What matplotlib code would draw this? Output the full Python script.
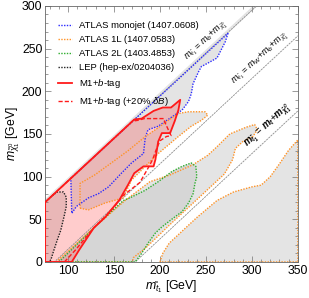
import matplotlib
matplotlib.use("Agg")

import matplotlib.pyplot as plt
from matplotlib.lines import Line2D
from matplotlib.ticker import MultipleLocator

plt.rcParams["font.family"] = ["Liberation Sans", "DejaVu Sans"]
plt.rcParams["mathtext.fontset"] = "custom"
plt.rcParams["mathtext.it"] = "Liberation Sans:italic"
plt.rcParams["mathtext.rm"] = "Liberation Sans"
plt.rcParams["mathtext.bf"] = "Liberation Sans:bold:italic"

# kinematic thresholds (GeV): m_t1 - m_chi = offset
line_offsets = [5, 85, 173]

# contours, (m_stop, m_chi) in GeV
monojet = [(274, 268), (271, 258), (262, 239), (252, 233), (245, 229), (242, 223),
           (236, 209), (234, 197), (231, 188), (224, 178), (213, 170), (198, 159),
           (187, 155), (184, 146), (182, 127), (169, 116), (158, 104), (144, 88),
           (133, 80), (122, 75), (109, 65), (104, 57), (103, 98)]
atlas1l_4body = [(113, 63), (122, 61), (140, 69), (160, 75), (169, 96), (184, 112),
                 (198, 127), (220, 147), (234, 159), (245, 166), (252, 172), (249, 176),
                 (231, 176), (220, 174), (209, 166), (195, 155), (184, 147), (166, 131),
                 (147, 116), (129, 102), (113, 92)]
atlas1l_3body = [(87, 0), (130, 42), (162, 72), (189, 94), (211, 102), (236, 114),
                 (252, 125), (262, 135), (276, 150), (294, 158), (303, 161), (306, 155),
                 (301, 147), (290, 141), (282, 133), (279, 120), (270, 103), (240, 73),
                 (210, 43), (185, 17), (171, 5), (170, 0)]
atlas1l_2body = [(200, 0), (203, 10), (210, 22), (225, 37), (240, 52), (262, 72),
                 (280, 82), (300, 88), (310, 90), (320, 100), (330, 115), (340, 131),
                 (350, 143), (350, 0)]
atlas2l = [(90, 0), (130, 42), (160, 72), (167, 75), (184, 84), (198, 94), (213, 106),
           (224, 112), (234, 116), (239, 112), (240, 100), (238, 92), (236, 80),
           (231, 69), (224, 59), (214, 51), (202, 41), (195, 34), (187, 22), (180, 10),
           (173, 0)]
lep = [(75, 0), (80, 0), (82, 5), (84, 12), (88, 25), (92, 37), (96, 55), (98, 65),
       (98, 76), (95, 82), (88, 82), (82, 77), (75, 70)]
m1_btag = [(104, 0), (112, 14), (120, 27), (128, 40), (140, 52), (156, 73), (165, 90),
           (172, 104), (182, 112), (193, 112), (195, 120), (198, 141), (202, 151),
           (211, 151), (216, 165), (220, 178), (222, 190), (212, 181), (203, 181),
           (193, 177), (180, 168), (172, 167), (167, 162), (75, 70), (75, 0)]
m1_btag_20 = [(96, 0), (108, 14), (118, 27), (128, 40), (142, 55), (150, 64),
              (160, 78), (178, 93), (186, 108), (192, 120), (196, 132), (200, 142),
              (207, 147), (212, 148), (209, 155), (206, 162), (204, 168), (193, 168),
              (183, 168), (176, 166), (170, 165), (75, 70), (75, 0)]

labels = ["ATLAS monojet (1407.0608)", "ATLAS 1L (1407.0583)", "ATLAS 2L (1403.4853)",
          "LEP (hep-ex/0204036)", r"M1+$b$-tag", r"M1+$b$-tag (+20% $\delta B$)"]
line_texts = [r"$m_{\tilde{t}_1}$ = $m_b$+$m_{\tilde{\chi}^0_1}$",
              r"$m_{\tilde{t}_1}$ = $m_W$+$m_b$+$m_{\tilde{\chi}^0_1}$",
              r"$\mathbf{m_{\tilde{t}_1}}$ = $\mathbf{m_t}$+$\mathbf{m_{\tilde{\chi}^0_1}}$"]
line_text_x = [255, 314, 323]

BLUE, ORANGE, GREEN, BLACK, RED = "#2b2bff", "#ff9326", "#2fae2f", "#222222", "#ff1a1a"
GRAY = "#e4e4e4"
DOT = (0, (1, 1))


def xy(poly):
    return [p[0] for p in poly], [p[1] for p in poly]


fig = plt.figure(figsize=(3.09, 2.98), dpi=100)
ax = fig.add_axes([0.146, 0.121, 0.818, 0.859])

# excluded regions (gray)
for poly, fc in [(atlas1l_2body, GRAY), (atlas1l_3body, GRAY), (atlas2l, "#d6d6d6"),
                 (monojet, GRAY), (atlas1l_4body, GRAY), (lep, GRAY)]:
    ax.fill(*xy(poly), color=fc, lw=0, zorder=1)

# strip above the first threshold
ax.fill_between([75, 305], [70, 300], [75, 305], color=GRAY, lw=0, zorder=1)

ax.fill(*xy(m1_btag), color=RED, alpha=0.22, lw=0, zorder=2)

# threshold lines
for off in line_offsets:
    ax.plot([75, 350], [75 - off, 350 - off], color="0.55", lw=0.6,
            ls=(0, (2.5, 1)), zorder=3)

for poly, c in [(monojet, BLUE), (atlas1l_4body, ORANGE), (atlas1l_3body, ORANGE),
                (atlas1l_2body, ORANGE), (atlas2l, GREEN), (lep, BLACK)]:
    xs, ys = xy(poly)
    ax.plot(xs + [xs[0]], ys + [ys[0]], color=c, lw=1.0, ls=DOT, zorder=4)

xs, ys = xy(m1_btag)
ax.plot(xs + [xs[0]], ys + [ys[0]], color=RED, lw=1.3, zorder=5)
xs, ys = xy(m1_btag_20)
ax.plot(xs + [xs[0]], ys + [ys[0]], color=RED, lw=1.0, ls=(0, (3, 1.5)), zorder=5)

for off, x0, txt in zip(line_offsets, line_text_x, line_texts):
    ax.text(x0, x0 - off + 4, txt, fontsize=6.5 if off != 173 else 6.9,
            rotation=42.5, rotation_mode="anchor", ha="center", va="bottom",
            zorder=6)

handles = [Line2D([], [], color=c, lw=1.0, ls=DOT) for c in (BLUE, ORANGE, GREEN, BLACK)]
handles += [Line2D([], [], color=RED, lw=1.3),
            Line2D([], [], color=RED, lw=1.0, ls=(0, (3, 1.5)))]
ax.legend(handles, labels, loc="upper left", frameon=False, fontsize=6.8,
          handlelength=1.5, handletextpad=0.8, labelspacing=0.52,
          borderaxespad=0.0, bbox_to_anchor=(0.035, 0.955))

ax.set_xlim(75, 350)
ax.set_ylim(0, 300)
ax.xaxis.set_major_locator(MultipleLocator(50))
ax.yaxis.set_major_locator(MultipleLocator(50))
ax.xaxis.set_minor_locator(MultipleLocator(10))
ax.yaxis.set_minor_locator(MultipleLocator(10))
ax.tick_params(which="both", direction="in", top=True, right=True,
               color="0.45", width=0.5, labelsize=8.8, pad=2)
ax.tick_params(which="major", length=4)
ax.tick_params(which="minor", length=2)
for s in ax.spines.values():
    s.set_color("0.4")
    s.set_linewidth(0.6)
ax.set_xlabel(r"$m_{\tilde{t}_1}$ [GeV]", fontsize=8.8, labelpad=1)
ax.set_ylabel(r"$m_{\tilde{\chi}^0_1}$ [GeV]", fontsize=8.8, labelpad=0)

fig.savefig("out.png", dpi=100)
